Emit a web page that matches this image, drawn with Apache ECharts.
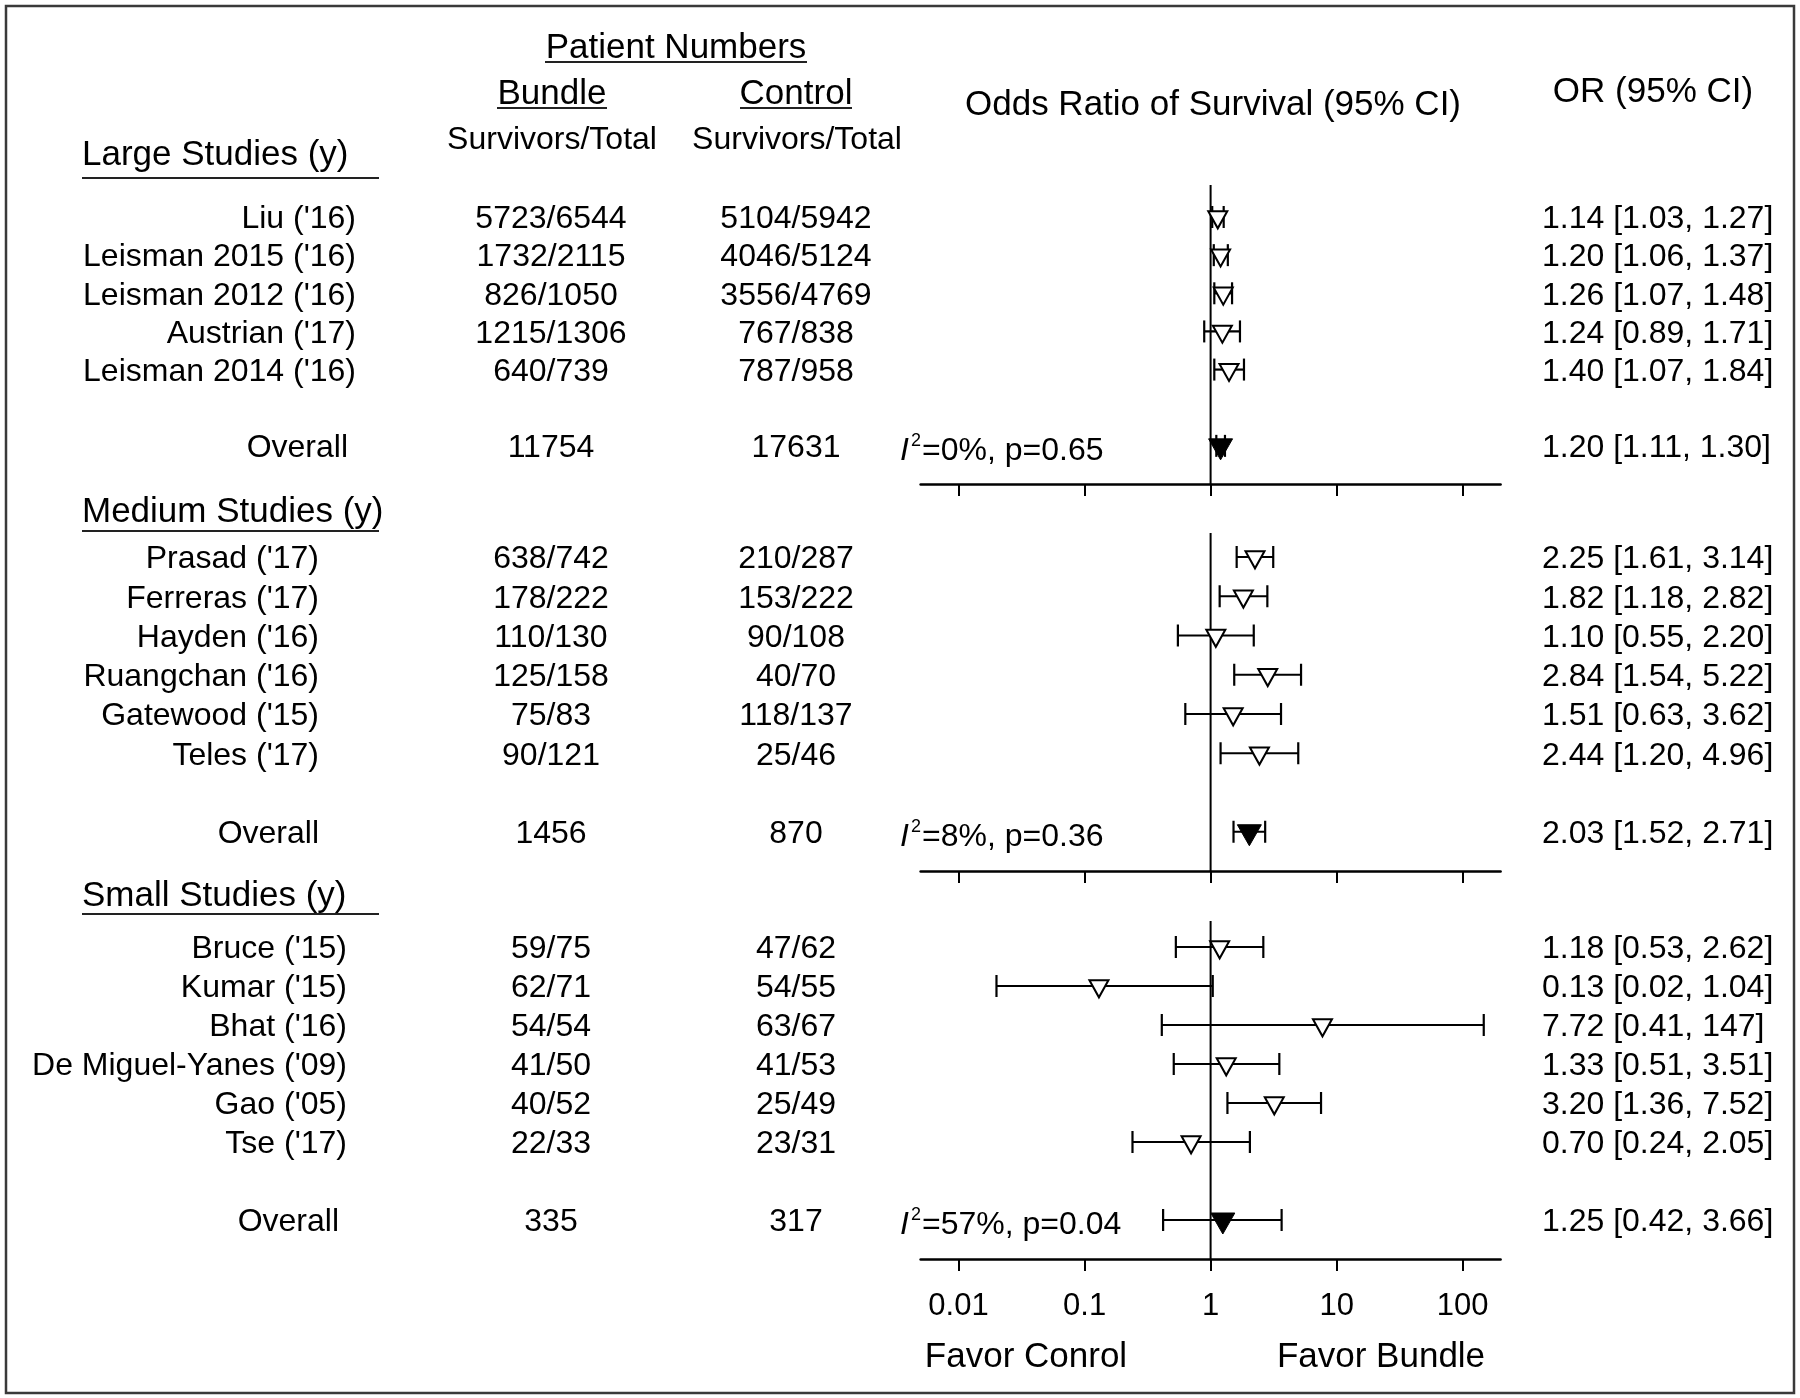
<!DOCTYPE html>
<html><head><meta charset="utf-8">
<script src="https://cdn.jsdelivr.net/npm/echarts@6/dist/echarts.min.js"></script>
<style>html,body{margin:0;padding:0;background:#fff}#chart{width:1800px;height:1398px}</style>
</head><body><div id="chart"></div>
<script>
// ---------------- data ----------------
const largeStudies = ["Liu ('16)", "Leisman 2015 ('16)", "Leisman 2012 ('16)", "Austrian ('17)", "Leisman 2014 ('16)"];
const largeBundle  = ["5723/6544", "1732/2115", "826/1050", "1215/1306", "640/739"];
const largeControl = ["5104/5942", "4046/5124", "3556/4769", "767/838", "787/958"];
const largeOR   = [1.14, 1.20, 1.26, 1.24, 1.40];
const largeLow  = [1.03, 1.06, 1.07, 0.89, 1.07];
const largeHigh = [1.27, 1.37, 1.48, 1.71, 1.84];
const largeOverall = [1.20, 1.11, 1.30];      // OR, low, high
const largeTotals  = ["11754", "17631"];     // bundle, control
const largeHet     = [0, 0.65];               // I2 (%), p

const mediumStudies = ["Prasad ('17)", "Ferreras ('17)", "Hayden ('16)", "Ruangchan ('16)", "Gatewood ('15)", "Teles ('17)"];
const mediumBundle  = ["638/742", "178/222", "110/130", "125/158", "75/83", "90/121"];
const mediumControl = ["210/287", "153/222", "90/108", "40/70", "118/137", "25/46"];
const mediumOR   = [2.25, 1.82, 1.10, 2.84, 1.51, 2.44];
const mediumLow  = [1.61, 1.18, 0.55, 1.54, 0.63, 1.20];
const mediumHigh = [3.14, 2.82, 2.20, 5.22, 3.62, 4.96];
const mediumOverall = [2.03, 1.52, 2.71];
const mediumTotals  = ["1456", "870"];
const mediumHet     = [8, 0.36];

const smallStudies = ["Bruce ('15)", "Kumar ('15)", "Bhat ('16)", "De Miguel-Yanes ('09)", "Gao ('05)", "Tse ('17)"];
const smallBundle  = ["59/75", "62/71", "54/54", "41/50", "40/52", "22/33"];
const smallControl = ["47/62", "54/55", "63/67", "41/53", "25/49", "23/31"];
const smallOR   = [1.18, 0.13, 7.72, 1.33, 3.20, 0.70];
const smallLow  = [0.53, 0.02, 0.41, 0.51, 1.36, 0.24];
const smallHigh = [2.62, 1.04, 147, 3.51, 7.52, 2.05];
const smallOverall = [1.25, 0.42, 3.66];
const smallTotals  = ["335", "317"];
const smallHet     = [57, 0.04];

const tickValues = [0.01, 0.1, 1, 10, 100];
const tickLabels = ["0.01", "0.1", "1", "10", "100"];
const axisRange  = [0.005, 200];

// ---------------- layout / style ----------------
const FONT = "'Liberation Sans', Arial, Helvetica, sans-serif";
const FS_DATA = 32, FS_HEAD = 35, FS_TICK = 31;
const COL_BUNDLE = 551, COL_CONTROL = 796, COL_OR = 1542, COL_HET = 900;
const PLOT_LEFT = 920.6, PLOT_WIDTH = 580;
const TY = 2.5; // text baseline nudge

const panels = [
  { header: 'Large Studies (y)', studies: largeStudies, bundle: largeBundle, control: largeControl,
    or: largeOR, lo: largeLow, hi: largeHigh, overall: largeOverall, totals: largeTotals, het: largeHet,
    top: 185, row0: 217, axisY: 484, overallRow: 6, nameRight: 356, overallRight: 348,
    headerY: 153, underlineY: 178, labels: false },
  { header: 'Medium Studies (y)', studies: mediumStudies, bundle: mediumBundle, control: mediumControl,
    or: mediumOR, lo: mediumLow, hi: mediumHigh, overall: mediumOverall, totals: mediumTotals, het: mediumHet,
    top: 533, row0: 557, axisY: 871, overallRow: 7, nameRight: 319, overallRight: 319,
    headerY: 510, underlineY: 531, labels: false },
  { header: 'Small Studies (y)', studies: smallStudies, bundle: smallBundle, control: smallControl,
    or: smallOR, lo: smallLow, hi: smallHigh, overall: smallOverall, totals: smallTotals, het: smallHet,
    top: 921, row0: 947, axisY: 1259, overallRow: 7, nameRight: 347, overallRight: 339,
    headerY: 894, underlineY: 914, labels: true }
];

function fmt(v) { return v >= 100 ? String(v) : v.toFixed(2); }
function fmtOR(o, l, h) { return fmt(o) + ' [' + fmt(l) + ', ' + fmt(h) + ']'; }
function tickLabelFor(v) {
  let best = 0, bd = Infinity;
  tickValues.forEach((t, i) => { const d = Math.abs(Math.log10(v) - Math.log10(t)); if (d < bd) { bd = d; best = i; } });
  return tickLabels[best];
}
function txt(text, x, y, align, size) {
  return { type: 'text', x: x, y: y + TY, silent: true,
    style: { text: text, fill: '#000', fontSize: size || FS_DATA, fontFamily: FONT,
             align: align, verticalAlign: 'middle', textAlign: align, textVerticalAlign: 'middle' } };
}

const grids = [], xAxes = [], yAxes = [], series = [];
const graphic = [];

panels.forEach((p, gi) => {
  const axisRow = p.overallRow + 1;
  const step = (p.axisY - p.row0) / axisRow;
  const yMin = (p.top - p.row0) / step;
  const yMax = axisRow;

  grids.push({ left: PLOT_LEFT, width: PLOT_WIDTH, top: p.top, height: p.axisY - p.top, containLabel: false });
  xAxes.push({
    type: 'log', logBase: 10, gridIndex: gi, min: axisRange[0], max: axisRange[1],
    axisLine: { show: true, onZero: false, lineStyle: { color: '#000', width: 2.5 } },
    axisTick: { show: true, inside: false, length: 12, customValues: tickValues, lineStyle: { color: '#000', width: 2 } },
    axisLabel: { show: p.labels, customValues: tickValues, margin: 32, fontSize: FS_TICK, color: '#000', fontFamily: FONT,
                 formatter: v => tickLabelFor(v) },
    splitLine: { show: false }
  });
  yAxes.push({ type: 'value', gridIndex: gi, inverse: true, min: yMin, max: yMax, show: false });

  const items = p.studies.map((name, i) => ({
    value: [p.or[i], i, p.lo[i], p.hi[i]], overall: false,
    name: name, bundle: p.bundle[i], control: p.control[i], orText: fmtOR(p.or[i], p.lo[i], p.hi[i]), right: p.nameRight
  }));
  items.push({
    value: [p.overall[0], p.overallRow, p.overall[1], p.overall[2]], overall: true,
    name: 'Overall', bundle: p.totals[0], control: p.totals[1], orText: fmtOR(p.overall[0], p.overall[1], p.overall[2]),
    right: p.overallRight, het: p.het
  });

  // vertical line at OR = 1
  series.push({
    type: 'line', xAxisIndex: gi, yAxisIndex: gi, data: [[1, yMin], [1, yMax]], symbol: 'none', z: 1,
    lineStyle: { color: '#000', width: 2 }, silent: true, animation: false
  });

  // table text
  series.push({
    type: 'custom', xAxisIndex: gi, yAxisIndex: gi, clip: false, z: 2, silent: true,
    data: items.map(it => ({ value: [1, it.value[1]] })),
    encode: { x: 0, y: 1 },
    renderItem: (params, api) => {
      const it = items[params.dataIndex];
      const y = api.coord([1, api.value(1)])[1];
      const ch = [
        txt(it.name, it.right, y, 'right'),
        txt(it.bundle, COL_BUNDLE, y, 'center'),
        txt(it.control, COL_CONTROL, y, 'center'),
        txt(it.orText, COL_OR, y, 'left')
      ];
      if (it.het) {
        const hy = y + 3;
        const ti = txt('I', COL_HET, hy, 'left'); ti.style.fontStyle = 'italic';
        ch.push(ti);
        ch.push(txt('2', COL_HET + 11, hy - 10, 'left', 18));
        ch.push(txt('=' + it.het[0] + '%, p=' + it.het[1].toFixed(2), COL_HET + 22, hy, 'left'));
      }
      return { type: 'group', children: ch };
    }
  });

  // forest marks
  series.push({
    type: 'custom', xAxisIndex: gi, yAxisIndex: gi, clip: false, z: 3, silent: true,
    data: items.map(it => ({ value: it.value })),
    encode: { x: [0, 2, 3], y: 1 },
    renderItem: (params, api) => {
      const it = items[params.dataIndex];
      const row = api.value(1);
      const c = api.coord([api.value(0), row]);
      const xl = api.coord([api.value(2), row])[0];
      const xh = api.coord([api.value(3), row])[0];
      const x = c[0], y = c[1];
      const big = it.overall;
      const w = big ? 24 : 19, h = big ? 21 : 17;
      const ls = { stroke: '#000', lineWidth: 2.2, fill: null };
      return { type: 'group', children: [
        { type: 'line', shape: { x1: xl, y1: y, x2: xh, y2: y }, style: ls },
        { type: 'line', shape: { x1: xl, y1: y - 11, x2: xl, y2: y + 11 }, style: ls },
        { type: 'line', shape: { x1: xh, y1: y - 11, x2: xh, y2: y + 11 }, style: ls },
        { type: 'polygon', shape: { points: [[x - w / 2, y - h / 3], [x + w / 2, y - h / 3], [x, y + 2 * h / 3]] },
          style: { fill: big ? '#000' : '#fff', stroke: '#000', lineWidth: big ? 1 : 2 } }
      ] };
    }
  });

  // section header + underline
  graphic.push({ type: 'text', x: 82, y: p.headerY + TY, silent: true,
    style: { text: p.header, fill: '#000', fontSize: FS_HEAD, fontFamily: FONT, align: 'left', verticalAlign: 'middle' } });
  graphic.push({ type: 'line', silent: true, shape: { x1: 82, y1: p.underlineY, x2: 379, y2: p.underlineY },
    style: { stroke: '#222', lineWidth: 2 } });
});

// column headers
function gtext(text, x, y, size, align) {
  return { type: 'text', x: x, y: y + TY, silent: true,
    style: { text: text, fill: '#000', fontSize: size, fontFamily: FONT, align: align || 'center', verticalAlign: 'middle' } };
}
function gline(x1, x2, y) {
  return { type: 'line', silent: true, shape: { x1: x1, y1: y, x2: x2, y2: y }, style: { stroke: '#222', lineWidth: 2 } };
}
graphic.push(gtext('Patient Numbers', 676, 46, FS_HEAD));
graphic.push(gline(545, 807, 62));
graphic.push(gtext('Bundle', 552, 92, FS_HEAD));
graphic.push(gline(497, 607, 108));
graphic.push(gtext('Control', 796, 92, FS_HEAD));
graphic.push(gline(740, 852, 108));
graphic.push(gtext('Survivors/Total', 552, 138, FS_DATA));
graphic.push(gtext('Survivors/Total', 797, 138, FS_DATA));
graphic.push(gtext('Odds Ratio of Survival (95% CI)', 1213, 103, FS_HEAD));
graphic.push(gtext('OR (95% CI)', 1653, 90, FS_HEAD));
graphic.push(gtext('Favor Conrol', 1026, 1355, FS_HEAD));
graphic.push(gtext('Favor Bundle', 1381, 1355, FS_HEAD));
graphic.push({ type: 'rect', silent: true, shape: { x: 6, y: 6, width: 1788, height: 1387 },
  style: { fill: null, stroke: '#3a3a3a', lineWidth: 2.5 } });

const chart = echarts.init(document.getElementById('chart'), null, { renderer: 'canvas' });
chart.setOption({
  backgroundColor: '#fff',
  animation: false,
  grid: grids,
  xAxis: xAxes,
  yAxis: yAxes,
  series: series,
  graphic: graphic
});
</script>
</body></html>
